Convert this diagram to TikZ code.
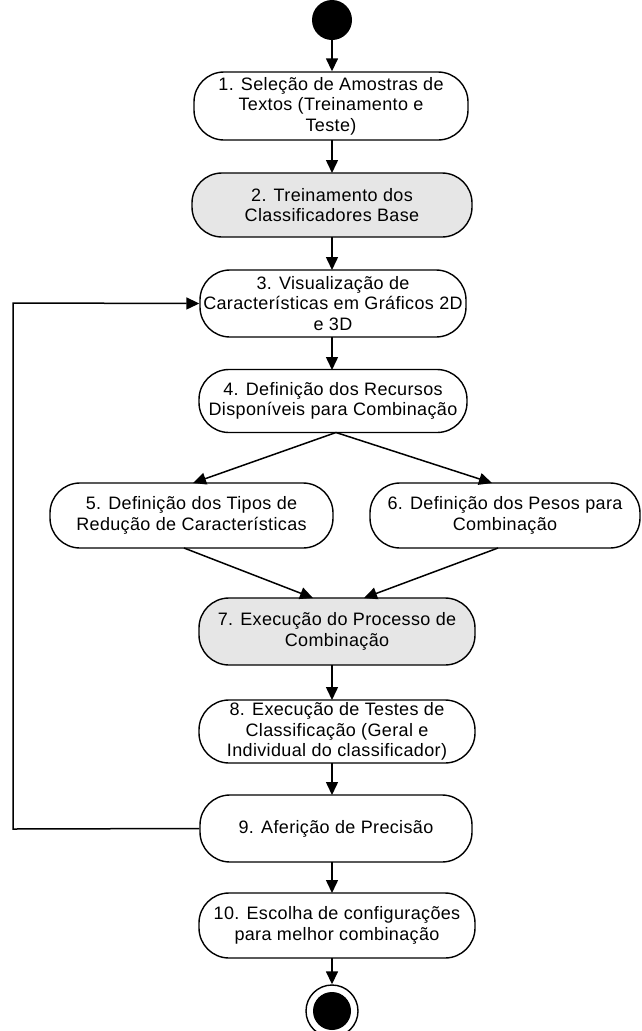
\documentclass[tikz,border=0pt]{standalone}
\usepackage{fontspec}
\setmainfont{Liberation Sans}[LetterSpace=2]
\usetikzlibrary{arrows.meta}
\definecolor{actgray}{RGB}{230,230,230}
\begin{document}
\begin{tikzpicture}[x=1pt,y=-1pt,
  act/.style={draw, line width=1.4pt, rounded corners=30pt, inner sep=0pt, align=center,
    font=\fontsize{18}{20.5}\selectfont, fill=white},
  hl/.style={fill=actgray},
  flow/.style={line width=1.5pt, -{Triangle[length=13pt,width=12pt]}}]
\useasboundingbox (0,0) rectangle (642,1031);

\node[circle, fill=black, minimum size=40pt, inner sep=0pt] (start) at (332,20) {};

\node[act, minimum width=274pt, minimum height=68pt] (b1) at (331,106)
  {1. Seleção de Amostras de\\Textos (Treinamento e\\Teste)};
\node[act, hl, minimum width=280pt, minimum height=64pt] (b2) at (332,205)
  {2. Treinamento dos\\Classificadores Base};
\node[act, minimum width=266pt, minimum height=67pt] (b3) at (333,303.5)
  {3. Visualização de\\Características em Gráficos 2D\\e 3D};
\node[act, minimum width=268pt, minimum height=63pt] (b4) at (333,401)
  {4. Definição dos Recursos\\Disponíveis para Combinação};
\node[act, minimum width=283pt, minimum height=65pt] (b5) at (191.5,515.5)
  {5. Definição dos Tipos de\\Redução de Características};
\node[act, minimum width=270pt, minimum height=65pt] (b6) at (505,515.5)
  {6. Definição dos Pesos para\\Combinação};
\node[act, hl, minimum width=276pt, minimum height=67pt] (b7) at (337,631.5)
  {7. Execução do Processo de\\Combinação};
\node[act, minimum width=276pt, minimum height=63pt] (b8) at (337,731.5)
  {8. Execução de Testes de\\Classificação (Geral e\\Individual do classificador)};
\node[act, minimum width=272pt, minimum height=67pt] (b9) at (336,828.5)
  {9. Aferição de Precisão};
\node[act, minimum width=276pt, minimum height=65pt] (b10) at (337,925.5)
  {10. Escolha de configurações\\para melhor combinação};

\node[circle, draw, line width=1.4pt, minimum size=52pt, inner sep=0pt] (stop) at (332,1011) {};
\node[circle, fill=black, minimum size=38pt, inner sep=0pt] (stopin) at (332,1011) {};

\coordinate (loopbot) at (13,829);
\coordinate (looptop) at (13,303);

\draw[flow] (start.south) -- (start.south |- b1.north);
\draw[flow] (332,140) -- (332,173);
\draw[flow] (332,237) -- (332,270);
\draw[flow] (332,337) -- (332,370);
\draw[flow] (336,432.5) -- (193,483);
\draw[flow] (336,432.5) -- (492,483);
\draw[flow] (184,548) -- (313,598);
\draw[flow] (498,548) -- (364,598);
\draw[flow] (332,665) -- (332,700);
\draw[flow] (332,763) -- (332,795);
\draw[flow] (332,862) -- (332,893);
\draw[flow] (332,958) -- (stop.north);
\draw[flow] (b9.west) -- (loopbot) -- (looptop) -- (b3.west);
\end{tikzpicture}
\end{document}
